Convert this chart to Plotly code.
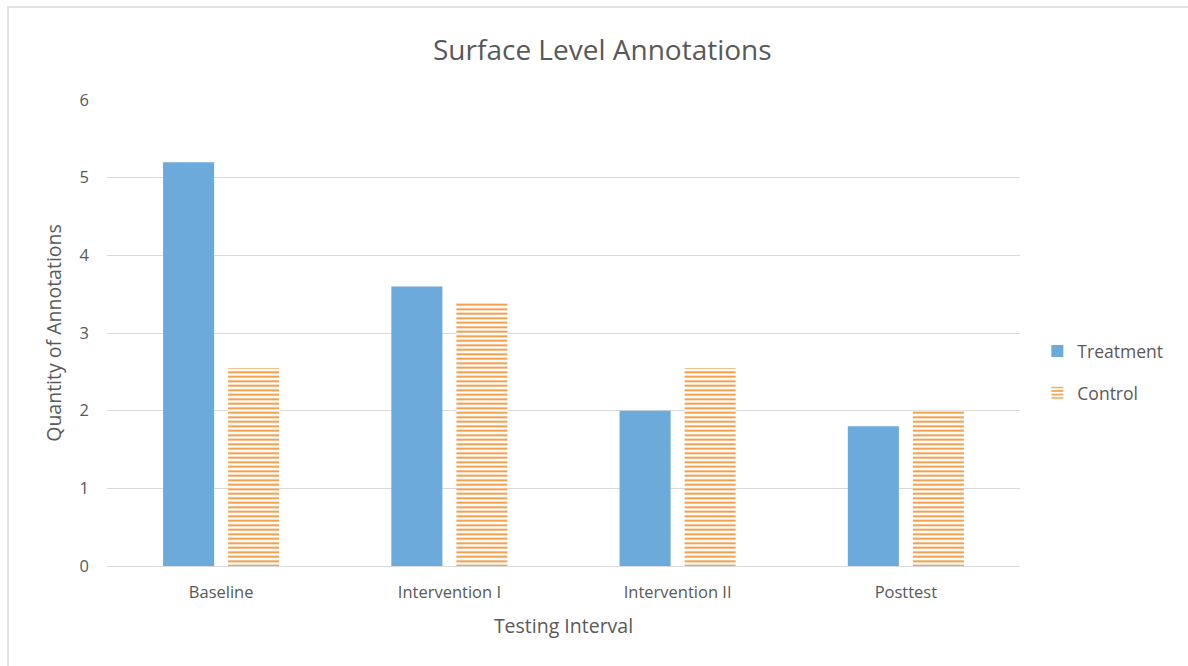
import plotly.graph_objects as go

categories = ["Baseline", "Intervention I", "Intervention II", "Posttest"]
treatment = [5.2, 3.6, 2.0, 1.8]
control = [2.55, 3.4, 2.55, 2.0]
y_ticks = [0, 1, 2, 3, 4, 5, 6]

FONT = "'Open Sans', sans-serif"
TEXT = "#595959"

fig = go.Figure()
fig.add_trace(go.Bar(
    name="Treatment", x=categories, y=treatment, legendgroup="t",
    marker=dict(color="#6CAADB", line=dict(width=0)),
))
fig.add_trace(go.Bar(
    name="Control", x=categories, y=control, legendgroup="c",
    marker=dict(
        color="white",
        line=dict(width=0),
        pattern=dict(shape="-", fgcolor="#F29233", bgcolor="white", fgopacity=1,
                     size=4.5, solidity=0.4, fillmode="overlay"),
    ),
))

fig.update_layout(
    width=1188, height=666,
    margin=dict(l=107, r=168, t=100, b=100, autoexpand=False),
    paper_bgcolor="white", plot_bgcolor="white",
    barmode="group", bargap=0.43, bargroupgap=0.215,
    font=dict(family=FONT, color=TEXT, size=16),
    title=dict(text="Surface Level Annotations", x=0.507, xanchor="center",
               y=0.925, yanchor="middle",
               font=dict(size=28, color=TEXT, family=FONT)),
    legend=dict(x=1.019, y=0.416, xanchor="left", yanchor="middle",
                font=dict(size=17.5, color=TEXT), traceorder="grouped",
                tracegroupgap=16, itemwidth=30),
    xaxis=dict(
        title=dict(text="Testing Interval", font=dict(size=19.5, color=TEXT), standoff=17),
        showline=True, linecolor="#D9D9D9", linewidth=1,
        ticks="", tickfont=dict(size=16.5, color=TEXT), ticklabelstandoff=11,
    ),
    yaxis=dict(
        title=dict(text="Quantity of Annotations", font=dict(size=19.5, color=TEXT), standoff=12),
        range=[0, 6], tickvals=y_ticks, showgrid=True, gridcolor="#D9D9D9",
        zeroline=False, ticks="", tickfont=dict(size=16.5, color=TEXT),
        ticklabelstandoff=17,
    ),
    shapes=[dict(type="rect", xref="paper", yref="paper",
                 x0=-0.1084, x1=1.3, y0=-0.35, y1=1.1996,
                 line=dict(color="#D9D9D9", width=1.5), fillcolor="rgba(0,0,0,0)",
                 layer="below")],
)

fig.write_html("out.html")
